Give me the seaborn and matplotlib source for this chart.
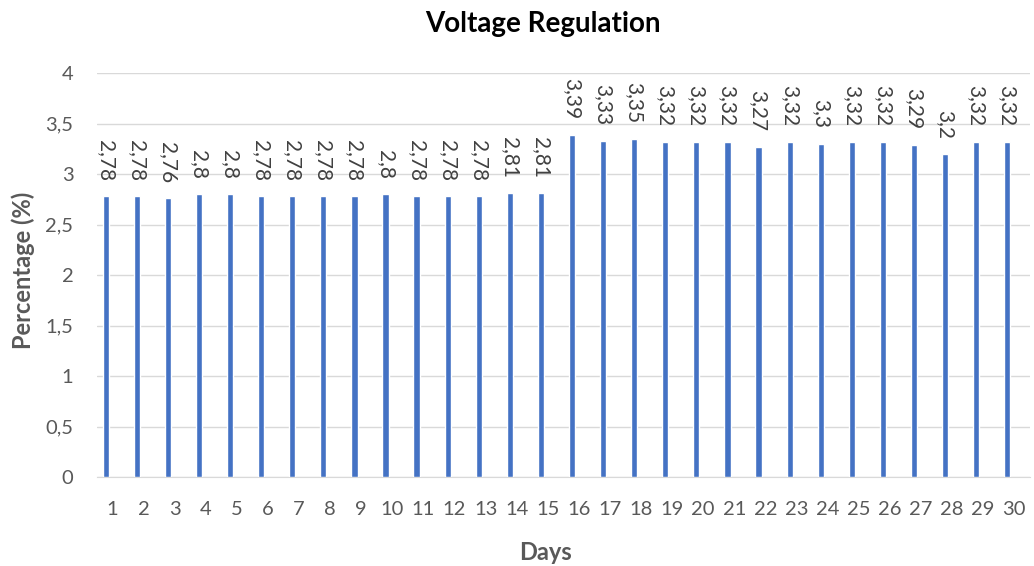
import matplotlib
matplotlib.use("Agg")
import matplotlib.pyplot as plt
import pandas as pd
import seaborn as sns

# data
days = list(range(1, 31))
values = [2.78, 2.78, 2.76, 2.8, 2.8, 2.78, 2.78, 2.78, 2.78, 2.8,
          2.78, 2.78, 2.78, 2.81, 2.81, 3.39, 3.33, 3.35, 3.32, 3.32,
          3.32, 3.27, 3.32, 3.3, 3.32, 3.32, 3.29, 3.2, 3.32, 3.32]
yticks = [0, 0.5, 1, 1.5, 2, 2.5, 3, 3.5, 4]

df = pd.DataFrame({"Day": days, "Value": values})

sns.set_style("white")
plt.rcParams['font.family'] = ['Lato', 'DejaVu Sans']
grey = "#595959"

fig = plt.figure(figsize=(10.34, 5.66), dpi=100)
ax = fig.add_axes([0.0938, 0.157, 0.902, 0.714])

sns.barplot(data=df, x="Day", y="Value", color="#4472C4", width=0.2,
            saturation=1, ax=ax, zorder=3)

# bars sit slightly left of the category centre in the original
for p in ax.patches:
    p.set_x(p.get_x() - 0.22)

for p, v in zip(ax.patches, values):
    ax.annotate(str(v).replace(".", ","),
                (p.get_x() + p.get_width() / 2, p.get_height()),
                xytext=(0, 11), textcoords="offset points",
                rotation=270, ha="center", va="bottom",
                fontsize=15, color="#404040")

ax.set_ylim(0, 4)
ax.set_xlim(-0.5, len(days) - 0.5)
ax.set_yticks(yticks)
ax.set_yticklabels([str(t).replace(".", ",").replace(",0", "") for t in yticks])
ax.yaxis.grid(True, color="#D9D9D9", linewidth=1, zorder=0)
ax.tick_params(axis="both", length=0, labelsize=14.5, colors=grey)
ax.tick_params(axis="x", pad=17)
ax.tick_params(axis="y", pad=17)
for s in ["top", "right", "left"]:
    ax.spines[s].set_visible(False)
ax.spines["bottom"].set_color("#D9D9D9")

ax.set_xlabel("")
ax.set_ylabel("")
fig.text(0.525, 0.957, "Voltage Regulation", ha="center", va="center",
         fontsize=20, fontweight="bold", color="black")
fig.text(0.528, 0.023, "Days", ha="center", va="center",
         fontsize=17, fontweight="bold", color=grey)
fig.text(0.022, 0.523, "Percentage (%)", ha="center", va="center",
         rotation=90, fontsize=17, fontweight="bold", color=grey)

fig.savefig("out.png", dpi=100)
